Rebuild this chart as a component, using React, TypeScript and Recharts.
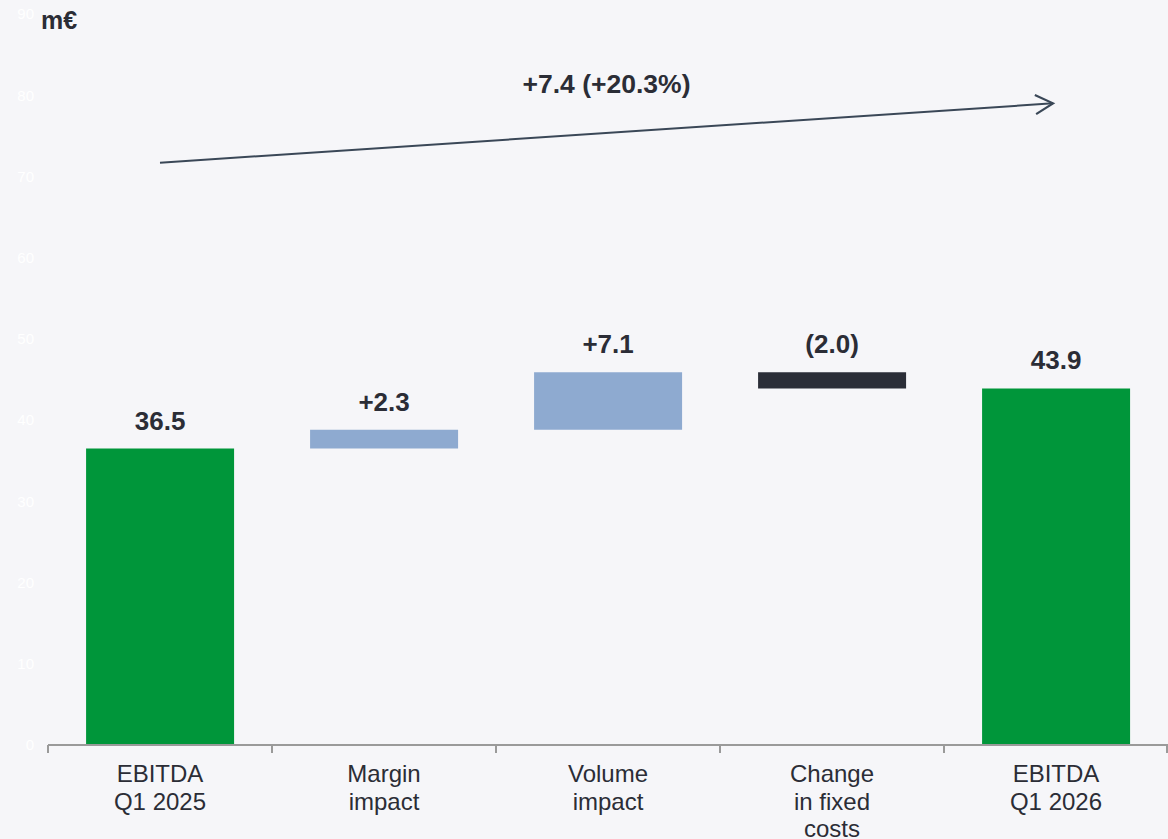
import React from 'react';
import {
  ComposedChart,
  Bar,
  Cell,
  XAxis,
  YAxis,
  LabelList,
  ReferenceLine,
} from 'recharts';

// Waterfall steps
const categories = ['EBITDA Q1 2025', 'Margin impact', 'Volume impact', 'Change in fixed costs', 'EBITDA Q1 2026'];
const tickLines = [['EBITDA', 'Q1 2025'], ['Margin', 'impact'], ['Volume', 'impact'], ['Change', 'in fixed', 'costs'], ['EBITDA', 'Q1 2026']];
const steps = [36.5, 2.3, 7.1, -2.0, 43.9];
const isTotal = [true, false, false, false, true];
const valueLabels = ['36.5', '+2.3', '+7.1', '(2.0)', '43.9'];
const yTicks = [0, 10, 20, 30, 40, 50, 60, 70, 80, 90];

// overall change arrow
const arrowFrom = { x: 'EBITDA Q1 2025', y: 71.7 };
const arrowTo = { x: 'EBITDA Q1 2026', y: 79.0 };
const arrowLabel = '+7.4 (+20.3%)';

const GREEN = '#00963a';
const BLUE = '#8eaad0';
const DARK = '#2b2e38';
const TEXT = '#2b2d36';
const AXIS = '#9a9a9a';
const BG = '#f6f6f9';
const FONT = '"Liberation Sans", Arial, sans-serif';

// build [low, high] ranges for the floating bars
let running = 0;
const data = categories.map((name, i) => {
  let range: [number, number];
  let color: string;
  if (isTotal[i]) {
    range = [0, steps[i]];
    running = steps[i];
    color = GREEN;
  } else {
    const next = +(running + steps[i]).toFixed(1);
    range = [Math.min(running, next), Math.max(running, next)];
    color = steps[i] >= 0 ? BLUE : DARK;
    running = next;
  }
  return { name, range, color, label: valueLabels[i] };
});

const CategoryTick = (props: any) => {
  const { x, y, payload, index } = props;
  const half = payload && payload.offset ? payload.offset : 112;
  const lines = tickLines[index] || [String(payload.value)];
  return (
    <g>
      <line x1={x - half} y1={y} x2={x - half} y2={y + 8} stroke={AXIS} strokeWidth={2} />
      {index === categories.length - 1 && (
        <line x1={x + half - 1} y1={y} x2={x + half - 1} y2={y + 8} stroke={AXIS} strokeWidth={2} />
      )}
      <text x={x} y={y + 37} textAnchor="middle" fontSize={24} fill={TEXT} fontFamily={FONT}>
        {lines.map((l: string, i: number) => (
          <tspan key={i} x={x} dy={i === 0 ? 0 : 27.5}>{l}</tspan>
        ))}
      </text>
    </g>
  );
};

const Arrow = (props: any) => {
  const { x1, y1, x2: cx2, y2 } = props;
  // arrow tip stops a little short of the last bar's centre
  const x2 = cx2 - 3;
  const ang = Math.atan2(y2 - y1, x2 - x1);
  const len = 20;
  const spread = 0.5;
  const wa = { x: x2 - len * Math.cos(ang - spread), y: y2 - len * Math.sin(ang - spread) };
  const wb = { x: x2 - len * Math.cos(ang + spread), y: y2 - len * Math.sin(ang + spread) };
  const stroke = '#3a4757';
  return (
    <g>
      <line x1={x1} y1={y1} x2={x2} y2={y2} stroke={stroke} strokeWidth={2} />
      <polyline
        points={`${wa.x},${wa.y} ${x2},${y2} ${wb.x},${wb.y}`}
        fill="none"
        stroke={stroke}
        strokeWidth={2.2}
      />
      <text
        x={(x1 + x2) / 2}
        y={(y1 + y2) / 2 - 40}
        textAnchor="middle"
        fontSize={26.5}
        fontWeight="bold"
        fill={TEXT}
        fontFamily={FONT}
      >
        {arrowLabel}
      </text>
    </g>
  );
};

export default function App() {
  return (
    <div style={{ position: 'relative', width: 1168, height: 839, background: BG, fontFamily: FONT }}>
      <style>{`body { margin: 0; background: ${BG}; }`}</style>
      <ComposedChart
        width={1168}
        height={839}
        data={data}
        margin={{ top: 14, right: 0, bottom: 0, left: 0 }}
        barCategoryGap="17%"
      >
        <YAxis
          type="number"
          domain={[0, 90]}
          ticks={yTicks}
          width={48}
          axisLine={false}
          tickLine={false}
          tickSize={0}
          tickMargin={14}
          tick={{ fill: '#ffffff', fontSize: 15, fontFamily: FONT }}
        />
        <XAxis
          dataKey="name"
          type="category"
          height={94}
          axisLine={{ stroke: AXIS, strokeWidth: 2 }}
          tickLine={false}
          tickSize={0}
          tickMargin={0}
          interval={0}
          tick={<CategoryTick />}
        />
        <Bar dataKey="range" isAnimationActive={false}>
          {data.map((d, i) => (
            <Cell key={`cell-${i}`} fill={d.color} />
          ))}
          <LabelList
            dataKey="label"
            position="top"
            offset={19}
            style={{ fontSize: 26, fontWeight: 'bold', fill: TEXT, fontFamily: FONT }}
          />
        </Bar>
        <ReferenceLine segment={[arrowFrom, arrowTo]} shape={Arrow} ifOverflow="visible" />
      </ComposedChart>
      <div
        style={{
          position: 'absolute',
          left: 41,
          top: 8,
          fontSize: 25,
          lineHeight: 1,
          fontWeight: 'bold',
          color: TEXT,
        }}
      >
        m€
      </div>
    </div>
  );
}
